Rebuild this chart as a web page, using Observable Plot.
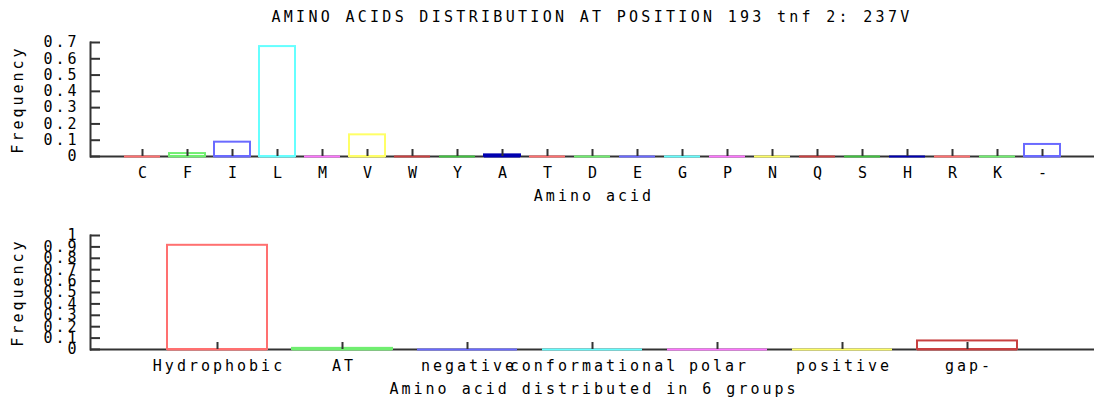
<!DOCTYPE html>
<html>
<head>
<meta charset="utf-8">
<script src="https://cdn.jsdelivr.net/npm/d3@7"></script>
<script src="https://cdn.jsdelivr.net/npm/@observablehq/plot@0.6"></script>
<style>
  body { margin: 0; background: #fff; width: 1094px; height: 401px; overflow: hidden; }
  #title { height: 30px; box-sizing: border-box; padding-left: 90px; text-align: center;
           font: 15px "DejaVu Sans Mono", monospace; letter-spacing: 3.3px; line-height: 34px; color: #000; }
  svg { display: block; }
  svg text { letter-spacing: 3px; }
</style>
</head>
<body>
<div id="title">AMINO ACIDS DISTRIBUTION AT POSITION 193 tnf 2: 237V</div>
<div id="c1"></div>
<div id="c2"></div>
<script>
// ---- data ----
const aminoAcids = ["C","F","I","L","M","V","W","Y","A","T","D","E","G","P","N","Q","S","H","R","K","-"];
const aminoFreq  = [0, 0.018, 0.088, 0.675, 0, 0.133, 0, 0, 0.010, 0, 0, 0, 0, 0, 0, 0, 0, 0, 0, 0, 0.074];
const topTicks   = [0, 0.1, 0.2, 0.3, 0.4, 0.5, 0.6, 0.7];

const groups     = ["Hydrophobic","AT","negative","conformational","polar","positive","gap-"];
const groupFreq  = [0.914, 0.010, 0, 0, 0, 0, 0.075];
const bottomTicks = [0, 0.1, 0.2, 0.3, 0.4, 0.5, 0.6, 0.7, 0.8, 0.9, 1];

// palette cycled by index
const palette = ["#ff7070","#70ee70","#6a6aff","#66ffff","#ff77ff","#ffff66","#c84040","#40c040","#0000b0"];

const FONT = '"DejaVu Sans Mono", monospace';
const INK = "#000";

function chart({cats, vals, ticks, height, marginTop, marginBottom, paddingInner, paddingOuter, xLabel, ymax}) {
  const width = 1094, marginLeft = 90, marginRight = 0;
  const plotW = width - marginLeft - marginRight;
  const plotH = height - marginTop - marginBottom;
  const data = cats.map((c, i) => ({cat: c, val: vals[i], color: palette[i % palette.length]}));
  return Plot.plot({
    width, height, marginTop, marginBottom, marginLeft, marginRight,
    style: {fontFamily: FONT, fontSize: "15px", color: INK, background: "white", overflow: "visible"},
    x: {type: "band", domain: cats, paddingInner, paddingOuter, axis: null},
    y: {domain: [0, ymax], axis: null},
    color: {type: "identity"},
    marks: [
      Plot.ruleY([0], {stroke: "#333", strokeWidth: 2}),
      Plot.frame({anchor: "left", stroke: "#333", strokeWidth: 2}),
      Plot.barY(data, {x: "cat", y: "val", fill: "none", stroke: "color", strokeWidth: 2}),
      Plot.tickY(data, {x: "cat", y: 0, stroke: "color", strokeWidth: 2}),
      Plot.ruleY(ticks, {y: d => d, insetRight: plotW - 10, stroke: "#333", strokeWidth: 2}),
      Plot.ruleX(cats, {x: d => d, insetTop: plotH - 7, stroke: "#333", strokeWidth: 2}),
      Plot.text(ticks, {y: d => d, text: d => String(d), frameAnchor: "left", dx: -11, textAnchor: "end", fill: INK}),
      Plot.text(cats, {x: d => d, text: d => d, frameAnchor: "bottom", lineAnchor: "middle", dy: 17, dx: 1.5, fill: INK}),
      Plot.text([xLabel], {frameAnchor: "bottom", lineAnchor: "middle", dy: 40, dx: 1.5, fill: INK}),
      Plot.text(["Frequency"], {frameAnchor: "left", dx: -72, rotate: -90, textAnchor: "middle", fill: INK})
    ]
  });
}

document.getElementById("c1").append(chart({
  cats: aminoAcids, vals: aminoFreq, ticks: topTicks, height: 200, marginTop: 12, marginBottom: 74,
  paddingInner: 0.19, paddingOuter: 0.595, xLabel: "Amino acid", ymax: 0.7
}));
document.getElementById("c2").append(chart({
  cats: groups, vals: groupFreq, ticks: bottomTicks, height: 171, marginTop: 5, marginBottom: 52,
  paddingInner: 0.2, paddingOuter: 0.6, xLabel: "Amino acid distributed in 6 groups", ymax: 1
}));
</script>
</body>
</html>
